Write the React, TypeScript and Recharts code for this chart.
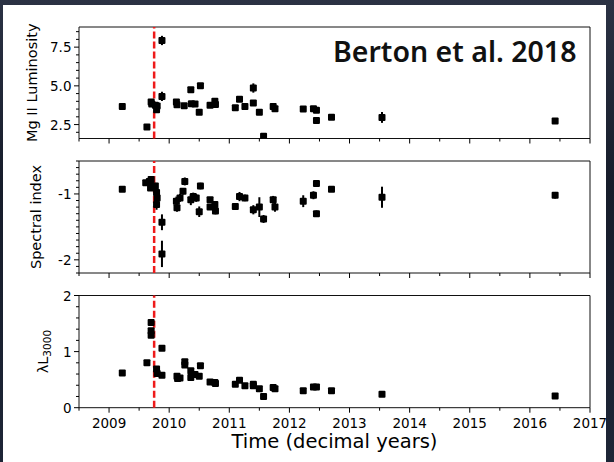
import React from 'react';
import { ScatterChart, Scatter, XAxis, YAxis, ErrorBar, ReferenceLine, ReferenceArea, Label } from 'recharts';

// Mg II luminosity light curve
const mgTime = [
  2009.22, 2009.63, 2009.7, 2009.71, 2009.77, 2009.79, 2009.8, 2009.88, 2009.88, 2010.12,
  2010.13, 2010.25, 2010.36, 2010.37, 2010.43, 2010.5, 2010.52, 2010.68, 2010.76, 2010.77,
  2011.1, 2011.17, 2011.26, 2011.4, 2011.4, 2011.5, 2011.57, 2011.73, 2011.76, 2012.23,
  2012.4, 2012.45, 2012.45, 2012.7, 2013.54, 2016.42,
];
const mgLum = [
  3.67, 2.34, 3.95, 3.82, 3.74, 3.45, 3.7, 7.93, 4.32, 3.95,
  3.78, 3.72, 4.75, 3.85, 3.82, 3.3, 5.0, 3.75, 4.0, 3.8,
  3.59, 4.13, 3.67, 4.86, 3.89, 3.3, 1.75, 3.67, 3.52, 3.5,
  3.52, 3.42, 2.77, 2.98, 2.96, 2.73,
];
const mgErr = [
  0.1, 0.1, 0.12, 0.12, 0.1, 0.1, 0.1, 0.3, 0.3, 0.1,
  0.1, 0.1, 0.15, 0.1, 0.1, 0.1, 0.1, 0.1, 0.1, 0.1,
  0.1, 0.1, 0.1, 0.3, 0.1, 0.1, 0.1, 0.1, 0.1, 0.12,
  0.1, 0.1, 0.1, 0.1, 0.35, 0.1,
];

// Spectral index
const alphaTime = [
  2009.22, 2009.61, 2009.67, 2009.69, 2009.7, 2009.77, 2009.79, 2009.8, 2009.79, 2009.88,
  2009.88, 2010.12, 2010.13, 2010.18, 2010.23, 2010.26, 2010.36, 2010.4, 2010.45, 2010.5,
  2010.52, 2010.68, 2010.68, 2010.76, 2010.77, 2011.1, 2011.17, 2011.26, 2011.4, 2011.5,
  2011.57, 2011.73, 2011.76, 2012.23, 2012.4, 2012.45, 2012.45, 2012.7, 2013.54, 2016.42,
];
const alphaValue = [
  -0.93, -0.83, -0.81, -0.91, -0.78, -0.88, -0.98, -1.06, -1.16, -1.43,
  -1.91, -1.11, -1.21, -1.06, -0.96, -0.81, -1.09, -1.04, -1.06, -1.27,
  -0.88, -1.09, -1.2, -1.16, -1.26, -1.19, -1.04, -1.06, -1.24, -1.2,
  -1.38, -1.09, -1.2, -1.11, -1.02, -0.84, -1.3, -0.93, -1.05, -1.02,
];
const alphaErr = [
  0.04, 0.04, 0.05, 0.04, 0.04, 0.05, 0.06, 0.08, 0.08, 0.12,
  0.2, 0.07, 0.06, 0.06, 0.05, 0.06, 0.08, 0.06, 0.06, 0.08,
  0.05, 0.04, 0.04, 0.04, 0.05, 0.04, 0.07, 0.05, 0.07, 0.15,
  0.06, 0.06, 0.07, 0.09, 0.06, 0.03, 0.05, 0.03, 0.16, 0.05,
];

// Continuum luminosity at 3000 A
const contTime = [
  2009.22, 2009.63, 2009.7, 2009.7, 2009.7, 2009.79, 2009.8, 2009.88, 2009.88, 2010.13,
  2010.14, 2010.18, 2010.26, 2010.26, 2010.36, 2010.36, 2010.43, 2010.5, 2010.52, 2010.68,
  2010.76, 2010.77, 2011.1, 2011.17, 2011.26, 2011.4, 2011.4, 2011.5, 2011.57, 2011.73,
  2011.76, 2012.23, 2012.4, 2012.45, 2012.7, 2013.54, 2016.42,
];
const contLum = [
  0.62, 0.8, 1.52, 1.37, 1.29, 0.69, 0.61, 1.06, 0.58, 0.56,
  0.52, 0.53, 0.82, 0.76, 0.66, 0.54, 0.59, 0.56, 0.75, 0.46,
  0.45, 0.43, 0.42, 0.49, 0.39, 0.42, 0.39, 0.34, 0.2, 0.36,
  0.34, 0.3, 0.37, 0.37, 0.3, 0.24, 0.21,
];

const yearTicks = [2009, 2010, 2011, 2012, 2013, 2014, 2015, 2016, 2017];
const halfYearTicks = [2008.5, 2009.5, 2010.5, 2011.5, 2012.5, 2013.5, 2014.5, 2015.5, 2016.5];

const mgTicks = [2.5, 5.0, 7.5];
const mgMinorTicks = [2, 3, 3.5, 4, 4.5, 5.5, 6, 6.5, 7, 8, 8.5];
const alphaTicks = [-2, -1];
const alphaMinorTicks = [-2.2, -2.1, -1.9, -1.8, -1.7, -1.6, -1.5, -1.4, -1.3, -1.2, -1.1, -0.9, -0.8, -0.7, -0.6, -0.5];
const contTicks = [0, 1, 2];
const contMinorTicks = [0.2, 0.4, 0.6, 0.8, 1.2, 1.4, 1.6, 1.8];

const FLARE_TIME = 2009.75;

const W = 614;
const H = 462;
const PLOT_LEFT = 79;
const PLOT_RIGHT = 590;
const X_DOMAIN: [number, number] = [2008.5, 2017];
const FONT = '"DejaVu Sans", Verdana, sans-serif';
const TICK_SIZE = 13.5;

type Point = { t: number; v: number; e?: number };

const zip = (t: number[], v: number[], e?: number[]): Point[] =>
  t.map((ti, i) => ({ t: ti, v: v[i], e: e ? e[i] : undefined }));

const isMajor = (list: number[], v: number) => list.some((m) => Math.abs(m - v) < 1e-6);

const square = (p: any) => <rect x={p.cx - 3.5} y={p.cy - 3.5} width={7} height={7} rx={1} fill="#000" />;

interface PanelProps {
  data: Point[];
  top: number;
  bottom: number;
  domain: [number, number];
  major: number[];
  minor: number[];
  fmt: (v: number) => string;
  title: React.ReactNode;
  titleX: number;
  showYears?: boolean;
  errors?: boolean;
}

function Panel({ data, top, bottom, domain, major, minor, fmt, title, titleX, showYears, errors }: PanelProps) {
  const midY = (top + bottom) / 2;

  const xTick = (p: any) => {
    const v = p.payload.value;
    const big = isMajor(yearTicks, v);
    return (
      <g>
        <line x1={p.x} x2={p.x} y1={p.y} y2={p.y + (big ? 5 : 3)} stroke="#000" strokeWidth={1} />
        {showYears && big && (
          <text x={p.x} y={p.y + 20} textAnchor="middle" fontSize={TICK_SIZE} fontFamily={FONT} fill="#000">
            {v}
          </text>
        )}
      </g>
    );
  };

  const yTick = (p: any) => {
    const v = p.payload.value;
    const big = isMajor(major, v);
    return (
      <g>
        <line x1={p.x} x2={p.x - (big ? 5 : 3)} y1={p.y} y2={p.y} stroke="#000" strokeWidth={1} />
        {big && (
          <text x={p.x - 7.5} y={p.y + 5} textAnchor="end" fontSize={TICK_SIZE} fontFamily={FONT} fill="#000">
            {fmt(v)}
          </text>
        )}
      </g>
    );
  };

  return (
    <div style={{ position: 'absolute', left: 0, top: 0 }}>
      <ScatterChart
        width={W}
        height={H}
        margin={{ top, bottom: H - bottom - 30, left: PLOT_LEFT - 40, right: W - PLOT_RIGHT }}
      >
        <XAxis
          type="number"
          dataKey="t"
          domain={X_DOMAIN}
          ticks={[...yearTicks, ...halfYearTicks]}
          interval={0}
          height={30}
          tickSize={0}
          tickMargin={0}
          tickLine={false}
          axisLine={false}
          allowDataOverflow
          tick={xTick}
        >
          {showYears && (
            <Label
              content={() => (
                <text x={(PLOT_LEFT + PLOT_RIGHT) / 2} y={448} textAnchor="middle" fontSize={19.5} fontFamily={FONT} fill="#000">
                  Time (decimal years)
                </text>
              )}
            />
          )}
        </XAxis>
        <YAxis
          type="number"
          dataKey="v"
          domain={domain}
          ticks={[...major, ...minor]}
          interval={0}
          width={40}
          tickSize={0}
          tickMargin={0}
          tickLine={false}
          axisLine={false}
          allowDataOverflow
          tick={yTick}
        >
          <Label
            content={() => (
              <text
                x={titleX}
                y={midY}
                transform={`rotate(-90 ${titleX} ${midY})`}
                textAnchor="middle"
                dominantBaseline="central"
                fontSize={14.5}
                fontFamily={FONT}
                fill="#000"
              >
                {title}
              </text>
            )}
          />
        </YAxis>
        <ReferenceArea
          x1={X_DOMAIN[0]}
          x2={X_DOMAIN[1]}
          y1={domain[0]}
          y2={domain[1]}
          fill="none"
          stroke="#111"
          strokeWidth={1}
          ifOverflow="visible"
        />
        <Scatter data={data} shape={square} isAnimationActive={false}>
          {errors && (
            <ErrorBar dataKey="e" direction="y" width={0} stroke="#000" strokeWidth={2} isAnimationActive={false} />
          )}
        </Scatter>
        <ReferenceLine x={FLARE_TIME} stroke="#ee1a1a" strokeWidth={2.5} strokeDasharray="7 3" ifOverflow="visible" />
      </ScatterChart>
    </div>
  );
}

export default function App() {
  return (
    <div
      style={{
        position: 'absolute',
        left: 0,
        top: 0,
        width: W,
        height: H,
        overflow: 'hidden',
        background: 'linear-gradient(180deg, #2b3244 0%, #161c2a 40%, #1d2536 100%)',
      }}
    >
      <div style={{ position: 'absolute', left: 3, top: 5, width: 603, height: 457, background: '#fff' }} />
      <Panel
        data={zip(mgTime, mgLum, mgErr)}
        top={27}
        bottom={138.5}
        domain={[1.6, 8.8]}
        major={mgTicks}
        minor={mgMinorTicks}
        fmt={(v) => v.toFixed(1)}
        title="Mg II Luminosity"
        titleX={32}
        errors
      />
      <Panel
        data={zip(alphaTime, alphaValue, alphaErr)}
        top={161}
        bottom={273}
        domain={[-2.2, -0.5]}
        major={alphaTicks}
        minor={alphaMinorTicks}
        fmt={(v) => String(v)}
        title="Spectral index"
        titleX={36}
        errors
      />
      <Panel
        data={zip(contTime, contLum)}
        top={295.5}
        bottom={407.7}
        domain={[0, 2]}
        major={contTicks}
        minor={contMinorTicks}
        fmt={(v) => String(v)}
        title={
          <>
            λL<tspan fontSize={10.5} dy={4}>3000</tspan>
          </>
        }
        titleX={43}
        showYears
      />
      <div
        style={{
          position: 'absolute',
          left: 333,
          top: 37,
          fontFamily: '"Noto Sans", "Open Sans", sans-serif',
          fontWeight: 600,
          fontSize: 28.5,
          lineHeight: 1,
          color: '#111',
          whiteSpace: 'nowrap',
        }}
      >
        Berton et al. 2018
      </div>
    </div>
  );
}
